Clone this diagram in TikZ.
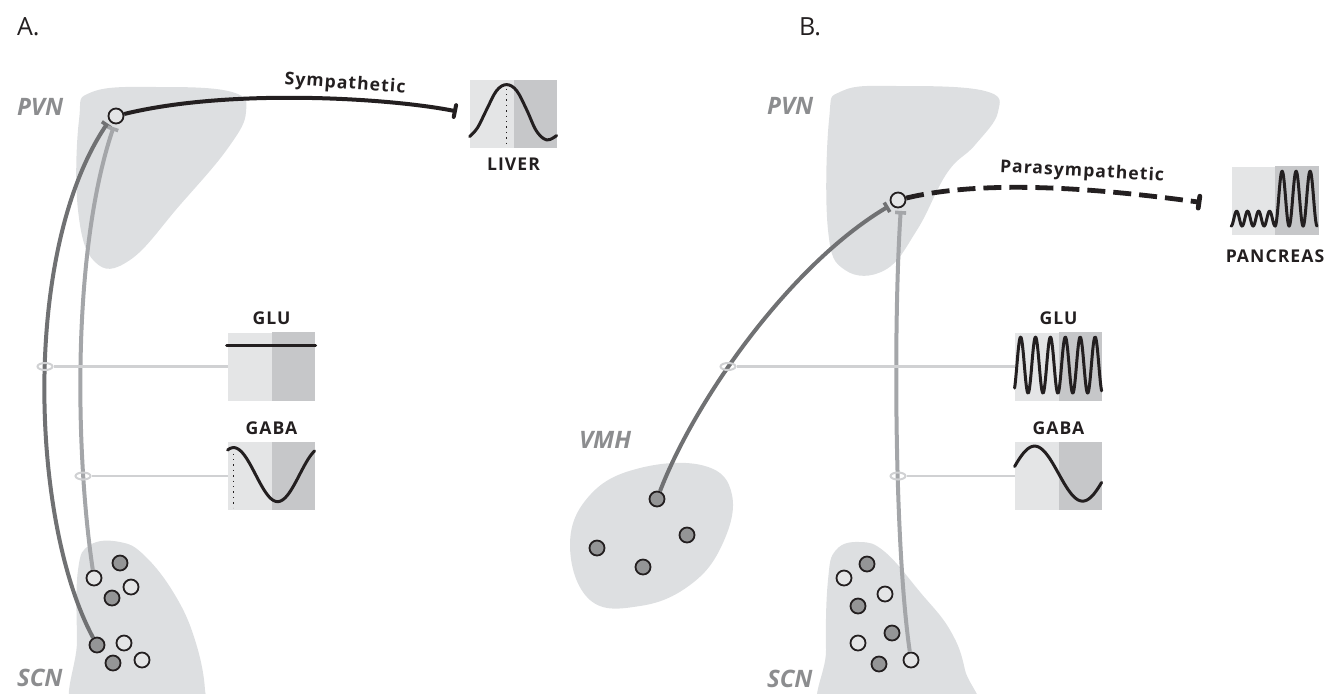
\documentclass[tikz,border=0pt]{standalone}
\usepackage{fontspec}
\setmainfont{Open Sans}
\usetikzlibrary{arrows.meta, positioning, shapes.geometric}
\definecolor{blob}{RGB}{221,223,225}
\definecolor{boxlo}{RGB}{228,229,230}
\definecolor{boxhi}{RGB}{198,199,201}
\definecolor{armdark}{RGB}{112,113,115}
\definecolor{armlight}{RGB}{164,166,169}
\definecolor{linkcol}{RGB}{208,209,211}
\definecolor{ink}{RGB}{35,31,32}
\definecolor{tagcol}{RGB}{140,141,143}

\begin{document}
\begin{tikzpicture}[x=0.5pt, y=-0.5pt,
    region/.style={fill=blob},
    panel/.style={anchor=west, font=\fontsize{12.5}{13}\selectfont, text=ink},
    tag/.style={anchor=west, font=\fontsize{12}{12}\selectfont\bfseries\itshape, text=tagcol},
    cellon/.style={circle, draw=ink, line width=0.9pt, fill=armdark!75, minimum size=7.5pt, inner sep=0pt},
    celloff/.style={circle, draw=ink, line width=0.9pt, fill=boxlo, minimum size=7.5pt, inner sep=0pt},
    sigbox/.style={rectangle, fill=boxlo, minimum width=43.5pt, minimum height=34pt, inner sep=0pt},
    siglabel/.style={font=\fontsize{8.8}{9}\selectfont\bfseries\addfontfeature{LetterSpace=6}, text=ink, inner sep=0pt},
    sig/.style={ink, line width=1.5pt, line cap=round, line join=round},
    proj/.style={line width=2pt, -{Bar[width=5.5pt, line width=1.8pt]}, shorten >=1.5pt},
    link/.style={draw=linkcol, line width=1.2pt},
    ring/.style={ellipse, draw=linkcol, line width=1pt, minimum width=7.5pt, minimum height=3.5pt, inner sep=0pt},
    nerve/.style={ink, line width=2pt, -{Bar[width=6pt, round]}},
    ]
    \useasboundingbox (0,0) rectangle (1336,693);
    \clip (0,0) rectangle (1336,693);

    % Nuclei
    \fill[region] plot[smooth cycle, tension=0.7] coordinates {(79,120) (92,92) (160,87) (232,92) (246,112) (228,148) (180,205) (130,260) (95,262) (78,210)};
    \fill[region] plot[smooth cycle, tension=0.7] coordinates {(77,640) (78,570) (90,545) (120,542) (145,556) (175,595) (195,640) (205,690) (200,720) (80,720)};
    \fill[region] plot[smooth cycle, tension=0.7] coordinates {(829,120) (842,91) (900,86) (985,91) (998,112) (975,145) (947,173) (917,230) (885,270) (845,270) (828,230)};
    \fill[region] plot[smooth cycle, tension=0.7] coordinates {(570,545) (590,495) (640,468) (705,466) (732,495) (722,545) (690,585) (640,606) (590,600)};
    \fill[region] plot[smooth cycle, tension=0.7] coordinates {(826,650) (828,580) (836,550) (860,542) (885,552) (920,592) (950,630) (965,670) (970,720) (830,720)};

    % Signal boxes
    \node[sigbox] (liver) at (513.5,114) {};
    \node[sigbox] (gluA) at (271.5,366.5) {};
    \node[sigbox] (gabaA) at (271.5,476) {};
    \node[sigbox] (pancreas) at (1275,200.5) {};
    \node[sigbox] (gluB) at (1058.5,366.5) {};
    \node[sigbox] (gabaB) at (1058.5,476) {};
    \fill[boxhi] (liver.north) rectangle (liver.south east);
    \fill[boxhi] (gluA.north) rectangle (gluA.south east);
    \fill[boxhi] (gabaA.north) rectangle (gabaA.south east);
    \fill[boxhi] (pancreas.north) rectangle (pancreas.south east);
    \fill[boxhi] (gluB.north) rectangle (gluB.south east);
    \fill[boxhi] (gabaB.north) rectangle (gabaB.south east);

    % Neurons A
    \node[celloff] (pvnA) at (116,116) {};
    \node[cellon] (scnA1) at (120,563) {};
    \node[celloff] (scnA2) at (94,578) {};
    \node[celloff] (scnA3) at (131,587) {};
    \node[cellon] (scnA4) at (112,598) {};
    \node[cellon] (scnA5) at (97,645) {};
    \node[celloff] (scnA6) at (124,643) {};
    \node[celloff] (scnA7) at (142,660) {};
    \node[cellon] (scnA8) at (113,663) {};

    % Neurons B
    \node[celloff] (pvnB) at (898,200) {};
    \node[cellon] (vmh1) at (657,499) {};
    \node[cellon] (vmh2) at (597,548) {};
    \node[cellon] (vmh3) at (643,567) {};
    \node[cellon] (vmh4) at (687,535) {};
    \node[cellon] (scnB1) at (867,564) {};
    \node[celloff] (scnB2) at (844,578) {};
    \node[celloff] (scnB3) at (885,594) {};
    \node[cellon] (scnB4) at (858,606) {};
    \node[cellon] (scnB5) at (892,633) {};
    \node[celloff] (scnB6) at (858,643) {};
    \node[cellon] (scnB7) at (879,664) {};
    \node[celloff] (scnB8) at (911,660) {};

    % Projections to PVN
    \draw[proj, armdark] (scnA5) .. controls (30,520) and (22,250) .. (pvnA.215);
    \draw[proj, armlight] (scnA2) .. controls (75,450) and (72,250) .. (pvnA.-100);
    \draw[proj, armdark] (vmh1) .. controls (695,400) and (790,265) .. (pvnB.215);
    \draw[proj, armlight] (scnB8) .. controls (895,550) and (893,330) .. (pvnB.-70);

    % Transmitter readouts
    \node[ring] (ringA1) at (gluA.west -| 45,0) {};
    \node[ring] (ringA2) at (gabaA.west -| 83,0) {};
    \node[ring] (ringB1) at (gluB.west -| 728,0) {};
    \node[ring] (ringB2) at (gabaB.west -| 898,0) {};
    \draw[link] (gluA.west) -- (ringA1);
    \draw[link] (gabaA.west) -- (ringA2);
    \draw[link] (gluB.west) -- (ringB1);
    \draw[link] (gabaB.west) -- (ringB2);

    % Autonomic outputs
    \draw[nerve, shorten >=6.5pt] (pvnA) .. controls (230,88) and (390,98) .. (liver.west);
    \node[siglabel, rotate=-4] (sympLabel) at (345,84) {Sympathetic};
    \draw[nerve, line width=2.4pt, dash pattern=on 9pt off 4pt, shorten >=15pt] (pvnB) .. controls (990,178) and (1110,190) .. ([yshift=-3pt]pancreas.west);
    \node[siglabel, rotate=-3] (paraLabel) at (1082,172) {Parasympathetic};

    % Traces
    \begin{scope}[shift={(liver.north west)}]
        \draw[sig] plot[smooth, tension=0.6] coordinates {(0,57) (8,48) (17,30) (27,11) (37,5) (47,11) (57,30) (66,50) (74,59) (80,60) (87,56)};
        \draw[ink, dotted, line width=0.7pt] (37,9) -- (37,68);
    \end{scope}
    \begin{scope}[shift={(gluA.north west)}]
        \draw[sig] (-1,13) -- (88,13);
    \end{scope}
    \begin{scope}[shift={(gabaA.north west)}]
        \draw[sig] plot[domain=0:87, samples=60] (\x, {33-27*cos(360/88*(\x-6))});
        \draw[ink, dotted, line width=0.7pt] (6,12) -- (6,66);
    \end{scope}
    \begin{scope}[shift={(pancreas.north west)}]
        \draw[sig] plot[domain=0:44, samples=80] (\x, {52.5-7.5*cos(360/11*(\x-5.5))})
            -- plot[domain=44:86, samples=100] (\x, {32.5-27.5*cos(360/14*(\x-51))});
    \end{scope}
    \begin{scope}[shift={(gluB.north west)}]
        \draw[sig] plot[domain=0:87, samples=240] (\x, {33-28*cos(360/14.9*(\x-6))});
    \end{scope}
    \begin{scope}[shift={(gabaB.north west)}]
        \draw[sig] plot[domain=0:87, samples=60] (\x, {32-27.5*cos(360/96*(\x-20))});
    \end{scope}

    % Labels
    \node[siglabel, below=4.5pt of liver] (liverLabel) {LIVER};
    \node[siglabel, below=7pt of pancreas] (pancLabel) {PANCREAS};
    \node[siglabel, above=3.5pt of gluA] (gluALabel) {GLU};
    \node[siglabel, above=3.5pt of gabaA] (gabaALabel) {GABA};
    \node[siglabel, above=3.5pt of gluB] (gluBLabel) {GLU};
    \node[siglabel, above=3.5pt of gabaB] (gabaBLabel) {GABA};
    \node[panel] (panelA) at (10,27) {A.};
    \node[panel] (panelB) at (792,27) {B.};
    \node[tag] (pvnATag) at (10,107) {PVN};
    \node[tag] (scnATag) at (10,678) {SCN};
    \node[tag] (pvnBTag) at (760,106) {PVN};
    \node[tag] (vmhTag) at (572,440) {VMH};
    \node[tag] (scnBTag) at (760,679) {SCN};
\end{tikzpicture}
\end{document}
